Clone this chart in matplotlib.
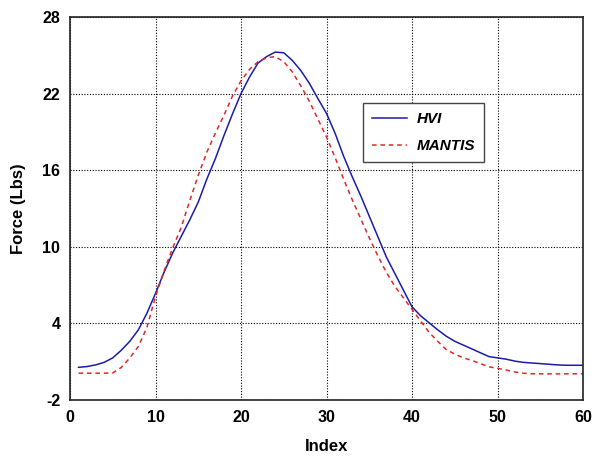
import matplotlib.pyplot as plt
import numpy as np

plt.rcParams['font.family'] = ['Liberation Sans', 'DejaVu Sans']
plt.rcParams['axes.unicode_minus'] = False

index = np.arange(1, 61)

hvi = [0.56, 0.62, 0.75, 0.95, 1.3, 1.9, 2.6, 3.5, 4.8, 6.35,
       8.0, 9.5, 10.8, 12.1, 13.5, 15.3, 16.9, 18.7, 20.4, 22.0,
       23.3, 24.4, 24.9, 25.25, 25.2, 24.6, 23.8, 22.8, 21.6, 20.45,
       18.9, 17.1, 15.5, 14.0, 12.4, 10.8, 9.2, 7.9, 6.6, 5.3,
       4.6, 4.05, 3.5, 3.0, 2.6, 2.3, 2.0, 1.7, 1.4, 1.3,
       1.2, 1.05, 0.95, 0.9, 0.85, 0.8, 0.75, 0.72, 0.72, 0.72]

mantis = [0.1, 0.1, 0.1, 0.1, 0.12, 0.55, 1.3, 2.2, 3.7, 6.1,
          8.1, 9.9, 11.5, 13.6, 15.6, 17.4, 18.9, 20.3, 21.8, 23.0,
          23.9, 24.5, 24.8, 24.9, 24.5, 23.7, 22.6, 21.4, 20.0, 18.6,
          17.0, 15.3, 13.7, 12.2, 10.7, 9.3, 8.0, 6.9, 6.0, 5.1,
          4.2, 3.3, 2.6, 1.95, 1.6, 1.3, 1.1, 0.85, 0.6, 0.48,
          0.35, 0.2, 0.1, 0.06, 0.05, 0.05, 0.05, 0.05, 0.05, 0.05]

fig = plt.figure(figsize=(6.01, 4.57), dpi=100)
ax = fig.add_axes([70/601, 57/457, 513/601, 383/457])

ax.plot(index, hvi, color='#1c1caa', lw=1.1, label='HVI')
ax.plot(index, mantis, color='#e02828', lw=1.1, ls=(0, (3, 2.5)), label='MANTIS')

ax.set_xlim(0, 60)
ax.set_ylim(-2, 28)
ax.set_xticks([0, 10, 20, 30, 40, 50, 60])
ax.set_yticks([-2, 4, 10, 16, 22, 28])
ax.tick_params(length=0, labelsize=11.5, pad=7)
for lab in ax.get_xticklabels() + ax.get_yticklabels():
    lab.set_fontweight('bold')
ax.grid(True, color='black', ls=(0, (1, 1.5)), lw=0.8)

for s in ax.spines.values():
    s.set_linewidth(1.2)
    s.set_color('#222222')

ax.set_xlabel('Index', fontsize=12, fontweight='bold', labelpad=10)
ax.set_ylabel('Force (Lbs)', fontsize=12, fontweight='bold', labelpad=12)

leg = ax.legend(loc='upper left', bbox_to_anchor=(0.571, 0.775), borderaxespad=0,
                fancybox=False, framealpha=1, edgecolor='#444444',
                handlelength=2.3, handletextpad=0.6, borderpad=0.6,
                labelspacing=0.85,
                prop={'style': 'italic', 'weight': 'bold', 'size': 11})
leg.get_frame().set_linewidth(1.0)

fig.savefig('out.png', dpi=100)
